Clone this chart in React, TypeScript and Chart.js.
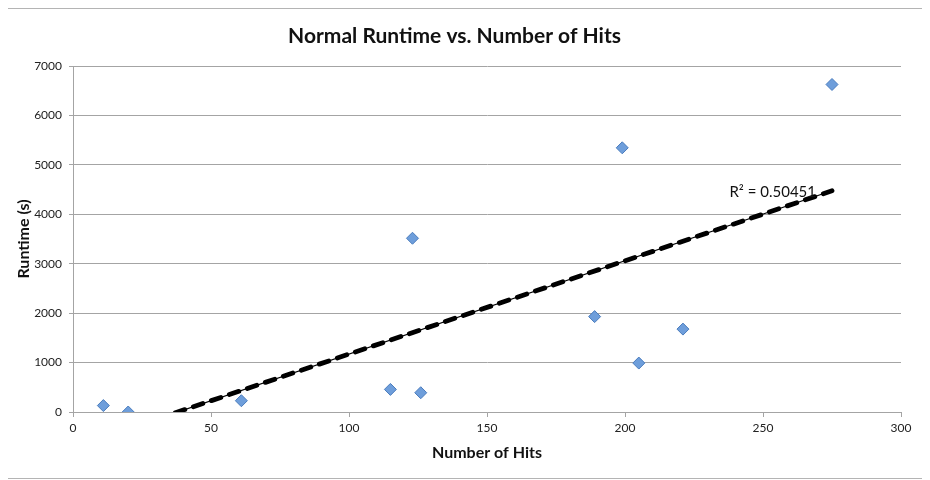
import React, { useEffect, useRef } from "react";
import { Chart, registerables } from "chart.js";

Chart.register(...registerables);

const TITLE = "Normal Runtime vs. Number of Hits";
const X_TITLE = "Number of Hits";
const Y_TITLE = "Runtime (s)";
const R2_LABEL = "R² = 0.50451";

const hits = [11, 20, 61, 115, 123, 126, 189, 199, 205, 221, 275];
const runtimes = [130, 0, 228, 457, 3515, 390, 1930, 5345, 990, 1677, 6626];

const X_MIN = 0;
const X_MAX = 300;
const X_STEP = 50;
const Y_MIN = 0;
const Y_MAX = 7000;
const Y_STEP = 1000;

function regression(xs: number[], ys: number[]) {
  const n = xs.length;
  const mx = xs.reduce((a, b) => a + b, 0) / n;
  const my = ys.reduce((a, b) => a + b, 0) / n;
  let sxy = 0;
  let sxx = 0;
  for (let i = 0; i < n; i++) {
    sxy += (xs[i] - mx) * (ys[i] - my);
    sxx += (xs[i] - mx) * (xs[i] - mx);
  }
  const slope = sxy / sxx;
  return { slope, intercept: my - slope * mx };
}

const GRID = "#a4a4a4";
const FONT = "Lato, 'Open Sans', sans-serif";

export default function App() {
  const ref = useRef<HTMLCanvasElement | null>(null);

  useEffect(() => {
    if (!ref.current) return;
    const { slope, intercept } = regression(hits, runtimes);
    const xLo = Math.min(...hits);
    const xHi = Math.max(...hits);
    const trend = [
      { x: xLo, y: slope * xLo + intercept },
      { x: xHi, y: slope * xHi + intercept },
    ];

    const labelPlugin = {
      id: "r2label",
      afterDatasetsDraw(chart: any) {
        const xs = chart.scales.x;
        const ys = chart.scales.y;
        const px = xs.getPixelForValue(xHi);
        const py = ys.getPixelForValue(slope * xHi + intercept);
        const ctx = chart.ctx;
        ctx.save();
        ctx.font = `15px ${FONT}`;
        ctx.fillStyle = "#111";
        ctx.textAlign = "right";
        ctx.textBaseline = "alphabetic";
        ctx.fillText(R2_LABEL, px - 16, py + 6);
        ctx.restore();
      },
    };

    const chart = new Chart(ref.current, {
      type: "scatter",
      data: {
        datasets: [
          {
            label: "Runtime",
            data: hits.map((h, i) => ({ x: h, y: runtimes[i] })),
            pointStyle: "rectRot",
            pointRadius: 6,
            backgroundColor: "#6e9edb",
            borderColor: "#4a7cbd",
            borderWidth: 1,
            order: 1,
          },
          {
            label: "Trend thin",
            data: trend,
            showLine: true,
            borderColor: "#000",
            borderWidth: 1.2,
            pointRadius: 0,
            clip: 0,
            order: 3,
          },
          {
            label: "Trend",
            data: trend,
            showLine: true,
            borderColor: "#000",
            borderWidth: 4.8,
            borderDash: [10, 9],
            borderCapStyle: "round",
            pointRadius: 0,
            clip: 0,
            order: 2,
          },
        ],
      },
      options: {
        animation: false,
        responsive: true,
        maintainAspectRatio: false,
        layout: { padding: { left: 0, right: 24, top: 0, bottom: 0 } },
        plugins: {
          legend: { display: false },
          tooltip: { enabled: false },
          title: {
            display: true,
            text: TITLE,
            color: "#111",
            font: { family: FONT, size: 21, weight: "bold", lineHeight: 1.2 },
            padding: { top: 15, bottom: 16.8 },
          },
        },
        scales: {
          x: {
            type: "linear",
            min: X_MIN,
            max: X_MAX,
            afterFit: (s: any) => {
              s.height = 66;
            },
            ticks: {
              stepSize: X_STEP,
              color: "#222",
              font: { family: FONT, size: 12 },
              padding: 4,
              callback: (v: any) => String(v),
            },
            grid: {
              drawOnChartArea: false,
              drawTicks: true,
              tickLength: 5,
              color: GRID,
            },
            border: { display: true, color: GRID, width: 1 },
            title: {
              display: true,
              text: X_TITLE,
              color: "#111",
              font: { family: FONT, size: 16, weight: "bold", lineHeight: 1.2 },
              padding: { top: 0, bottom: 16 },
            },
          },
          y: {
            type: "linear",
            min: Y_MIN,
            max: Y_MAX,
            afterFit: (s: any) => {
              s.width = 65;
            },
            ticks: {
              stepSize: Y_STEP,
              color: "#222",
              font: { family: FONT, size: 12 },
              padding: 7,
              callback: (v: any) => String(v),
            },
            grid: {
              drawTicks: true,
              tickLength: 4,
              color: GRID,
            },
            border: { display: true, color: GRID, width: 1 },
            title: {
              display: true,
              text: Y_TITLE,
              color: "#111",
              font: { family: FONT, size: 16, weight: "bold", lineHeight: 1.2 },
              padding: { top: 6, bottom: 0 },
            },
          },
        },
      },
      plugins: [labelPlugin],
    } as any);
    return () => chart.destroy();
  }, []);

  return (
    <div
      style={{
        position: "relative",
        width: 917,
        height: 469,
        borderTop: "1px solid #b4b4b4",
        borderRight: "1px solid #b4b4b4",
        borderBottom: "1px solid #b4b4b4",
        background: "#fff",
      }}
    >
      <canvas ref={ref} />
    </div>
  );
}
